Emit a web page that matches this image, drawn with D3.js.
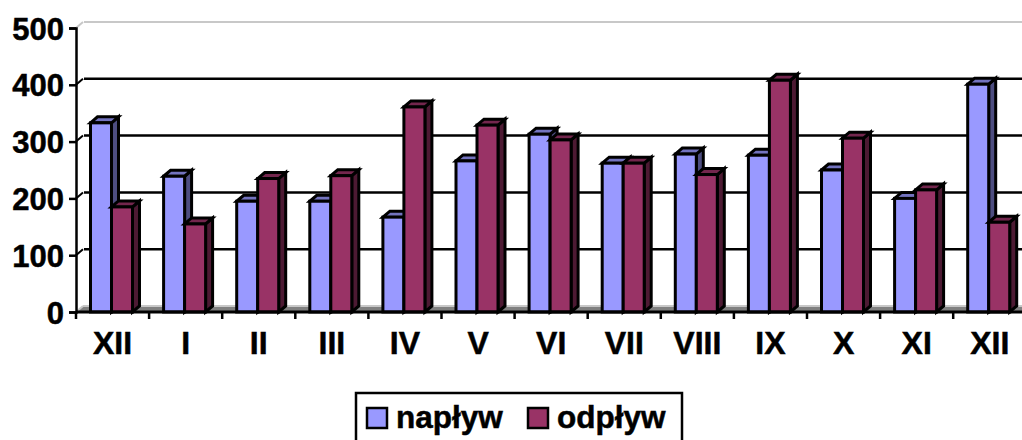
<!DOCTYPE html>
<html lang="en">
<head>
    <meta charset="UTF-8">
    <title>napływ / odpływ</title>
    <script src="https://d3js.org/d3.v7.min.js"></script>
    <style>
        html, body { margin: 0; padding: 0; background: #fff; }
        svg { display: block; }
        text { font-family: "Liberation Sans", sans-serif; font-weight: bold; fill: #000; stroke: #000; stroke-width: 0.5px; }
    </style>
</head>
<body>
    <svg width="1022" height="440"></svg>
    <script>
        const months = ["XII", "I", "II", "III", "IV", "V", "VI", "VII", "VIII", "IX", "X", "XI", "XII"];
        const naplyw = [333, 239, 195, 195, 167, 266, 313, 262, 278, 276, 250, 200, 401];
        const odplyw = [185, 155, 235, 240, 361, 329, 303, 262, 242, 408, 306, 215, 158];
        const yTicks = [0, 100, 200, 300, 400, 500];
        const seriesNames = ["napływ", "odpływ"];

        // front, side and top colours of each series
        const colors = [
            { front: "#9999ff", side: "#4d4d80", top: "#7373bf" },
            { front: "#993366", side: "#4d1a33", top: "#73264d" }
        ];

        const svg = d3.select("svg");
        const depthX = 7, depthY = -6;

        const x = d3.scaleBand().domain(d3.range(months.length)).range([76, 76 + 73.1 * 13]);
        const sub = d3.scaleBand().domain([0, 1]).range([14.5, 56.5]);
        const y = d3.scaleLinear().domain([0, 500]).range([312, 28]);

        // back wall gridlines
        const xLeft = x.range()[0], xRight = 1022;
        svg.append("g").selectAll("line")
            .data(yTicks.slice(1))
            .enter().append("line")
            .attr("x1", xLeft + depthX + 1)
            .attr("x2", xRight)
            .attr("y1", d => y(d) + depthY)
            .attr("y2", d => y(d) + depthY)
            .attr("stroke", d => d == 500 ? "#c8c8c8" : "#000")
            .attr("stroke-width", d => d == 500 ? 2 : 2.5);

        // floor
        svg.append("path")
            .attr("d", `M${xLeft},${y(0)}L${xLeft + depthX},${y(0) + depthY}H${xRight}V${y(0)}Z`)
            .attr("fill", "#808080");
        svg.append("line")
            .attr("x1", xLeft + depthX).attr("x2", xRight)
            .attr("y1", y(0) + depthY).attr("y2", y(0) + depthY)
            .attr("stroke", "#c8c8c8").attr("stroke-width", 2);

        // side wall diagonals
        svg.append("g").selectAll("line")
            .data(yTicks)
            .enter().append("line")
            .attr("x1", xLeft).attr("x2", xLeft + depthX)
            .attr("y1", d => y(d)).attr("y2", d => y(d) + depthY)
            .attr("stroke", d => (d == 500 || d == 0) ? "#c8c8c8" : "#000")
            .attr("stroke-width", 2);

        // bars
        const barStroke = { stroke: "#000", width: 3 };
        [naplyw, odplyw].forEach(function (values, s) {
            months.forEach(function (m, i) {
                const x0 = x(i) + sub(s), x1 = x0 + sub.bandwidth();
                const yt = y(values[i]), yb = y(0);
                const g = svg.append("g")
                    .attr("stroke", barStroke.stroke)
                    .attr("stroke-width", barStroke.width)
                    .attr("stroke-linejoin", "miter");
                g.append("path")
                    .attr("d", `M${x1},${yt}L${x1 + depthX},${yt + depthY}V${yb + depthY}L${x1},${yb}Z`)
                    .attr("fill", colors[s].side);
                g.append("path")
                    .attr("d", `M${x0},${yt}L${x0 + depthX},${yt + depthY}H${x1 + depthX}L${x1},${yt}Z`)
                    .attr("fill", colors[s].top);
                g.append("rect")
                    .attr("x", x0).attr("y", yt)
                    .attr("width", x1 - x0).attr("height", yb - yt)
                    .attr("fill", colors[s].front);
            });
        });

        // axes
        const yAxis = d3.axisLeft(y).tickValues(yTicks).tickSize(7).tickPadding(5);
        const gy = svg.append("g").attr("transform", `translate(${xLeft},0)`).call(yAxis);
        gy.selectAll("path, line").attr("stroke", "#000").attr("stroke-width", 2.5);
        gy.selectAll("text").attr("font-size", 31).attr("dy", "0.36em");
        gy.attr("font-family", null).attr("font-size", null);

        svg.append("line")
            .attr("x1", xLeft).attr("x2", xRight)
            .attr("y1", y(0)).attr("y2", y(0))
            .attr("stroke", "#000").attr("stroke-width", 3);

        // category ticks sit between the bands
        svg.append("g").selectAll("line")
            .data(d3.range(months.length))
            .enter().append("line")
            .attr("x1", d => x(d)).attr("x2", d => x(d))
            .attr("y1", y(0)).attr("y2", y(0) + 7)
            .attr("stroke", "#000").attr("stroke-width", 2.5);

        svg.append("g").selectAll("text")
            .data(months)
            .enter().append("text")
            .attr("x", (d, i) => x(i) + x.bandwidth() / 2)
            .attr("y", 354)
            .attr("text-anchor", "middle")
            .attr("font-size", 32)
            .text(d => d);

        // legend
        const legend = svg.append("g");
        legend.append("rect")
            .attr("x", 356).attr("y", 393).attr("width", 326).attr("height", 60)
            .attr("fill", "#fff").attr("stroke", "#000").attr("stroke-width", 2.5);
        const legendX = [367, 528];
        seriesNames.forEach(function (name, s) {
            legend.append("rect")
                .attr("x", legendX[s]).attr("y", 408)
                .attr("width", 20).attr("height", 20)
                .attr("fill", colors[s].front)
                .attr("stroke", "#000").attr("stroke-width", 2.5);
            legend.append("text")
                .attr("x", legendX[s] + 29).attr("y", 428)
                .attr("font-size", 31.5)
                .text(name);
        });
    </script>
</body>
</html>
